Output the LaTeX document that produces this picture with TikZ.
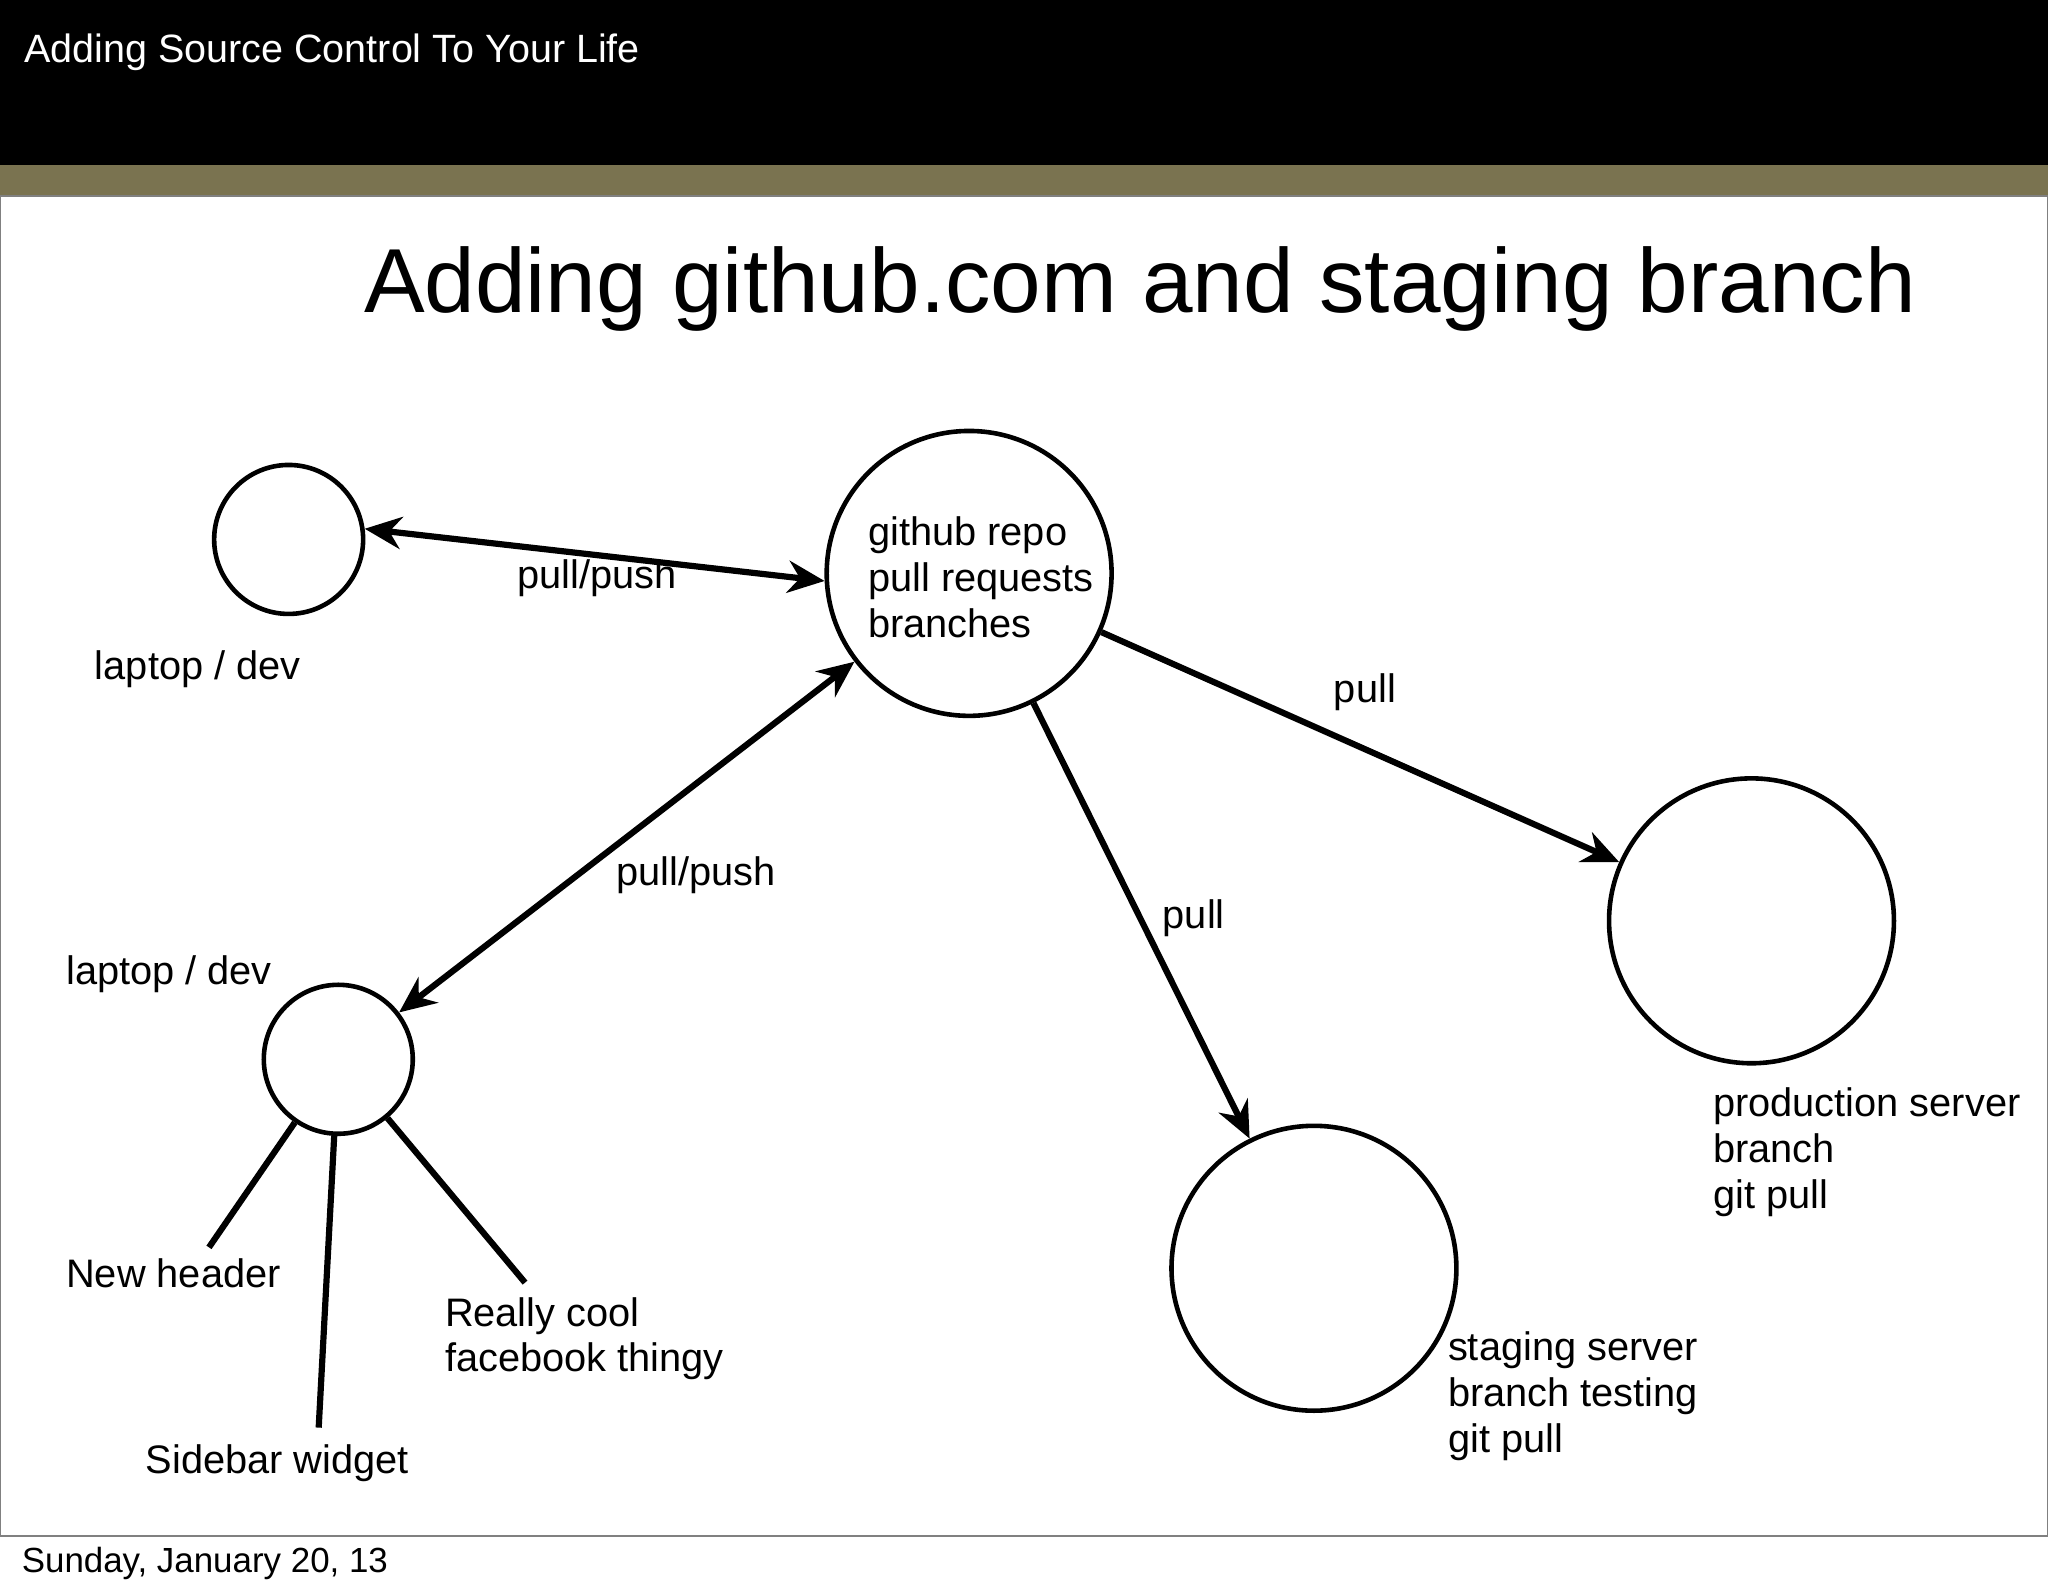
\documentclass[tikz,border=0pt]{standalone}
\usepackage{fontspec}
\setmainfont{Liberation Sans}
\usetikzlibrary{arrows.meta}
\definecolor{olive}{HTML}{7A7350}

\begin{document}
\begin{tikzpicture}[x=0.01cm,y=-0.01cm,
    host/.style={draw,circle,line width=1pt,inner sep=0pt},
    lbl/.style={anchor=west,align=left,inner sep=0pt,font=\fontsize{8.66}{9.96}\selectfont},
    link/.style={line width=1.35pt},
    flow/.style={link,-{Stealth[length=8pt,width=7pt]}},
    sync/.style={link,{Stealth[length=8pt,width=7pt]}-{Stealth[length=8pt,width=7pt]}}]
    \useasboundingbox (0,0) rectangle (1568,1220);
    \fill[white] (0,0) rectangle (1568,1220);
    \fill[black] (0,0) rectangle (1568,126);
    \fill[olive] (0,126) rectangle (1568,150);
    \draw[gray,line width=0.5pt] (0,150) rectangle (1568,1176);
    \node[anchor=west,inner sep=0pt,white,font=\fontsize{8.6}{10}\selectfont] (head) at (18,40) {Adding Source Control To Your Life};
    \node[anchor=west,inner sep=0pt,font=\fontsize{19.8}{24}\selectfont] (title) at (278,221) {Adding github.com and staging branch};
    \node[anchor=west,inner sep=0pt,font=\fontsize{7.6}{9}\selectfont] (date) at (16,1197) {Sunday, January 20, 13};
    % hosts
    \node[host,minimum size=1.14cm] (dev1) at (221,413) {};
    \node[host,minimum size=2.18cm] (hub) at (742,439) {};
    \node[host,minimum size=1.14cm] (dev2) at (259,811) {};
    \node[host,minimum size=2.18cm] (stage) at (1006,971) {};
    \node[host,minimum size=2.18cm] (prod) at (1341,705) {};
    % texts
    \node[lbl] (hubtxt) at (664,442) {github repo\\pull requests\\branches};
    \node[lbl] (dev1txt) at (72,512) {laptop / dev};
    \node[lbl] (dev2txt) at (50,746) {laptop / dev};
    \node[lbl] (prodtxt) at (1311,882) {production server\\branch\\git pull};
    \node[lbl] (stagetxt) at (1108,1069) {staging server\\branch testing\\git pull};
    % connectors
    \draw[sync] (dev1.8) -- (hub.183) node[lbl,anchor=center] at (457,443) {pull/push};
    \draw[sync] (dev2) -- (hub) node[lbl,anchor=center] at (533,670) {pull/push};
    \draw[flow] (hub) -- (prod) node[lbl,anchor=center] at (1045,530) {pull};
    \draw[flow] (hub) -- (stage) node[lbl,anchor=center] at (914,703) {pull};
    % branches
    \coordinate (b1) at (160,955);
    \coordinate (b2) at (244,1093);
    \coordinate (b3) at (402,982);
    \draw[link] (dev2) -- (b1);
    \draw[link] (dev2) -- (b2);
    \draw[link] (dev2) -- (b3);
    \node[lbl] (b1txt) at (50,975) {New header};
    \node[lbl] (b2txt) at (111,1120) {Sidebar widget};
    \node[lbl] (b3txt) at (340,1025) {Really cool\\facebook thingy};
\end{tikzpicture}
\end{document}
